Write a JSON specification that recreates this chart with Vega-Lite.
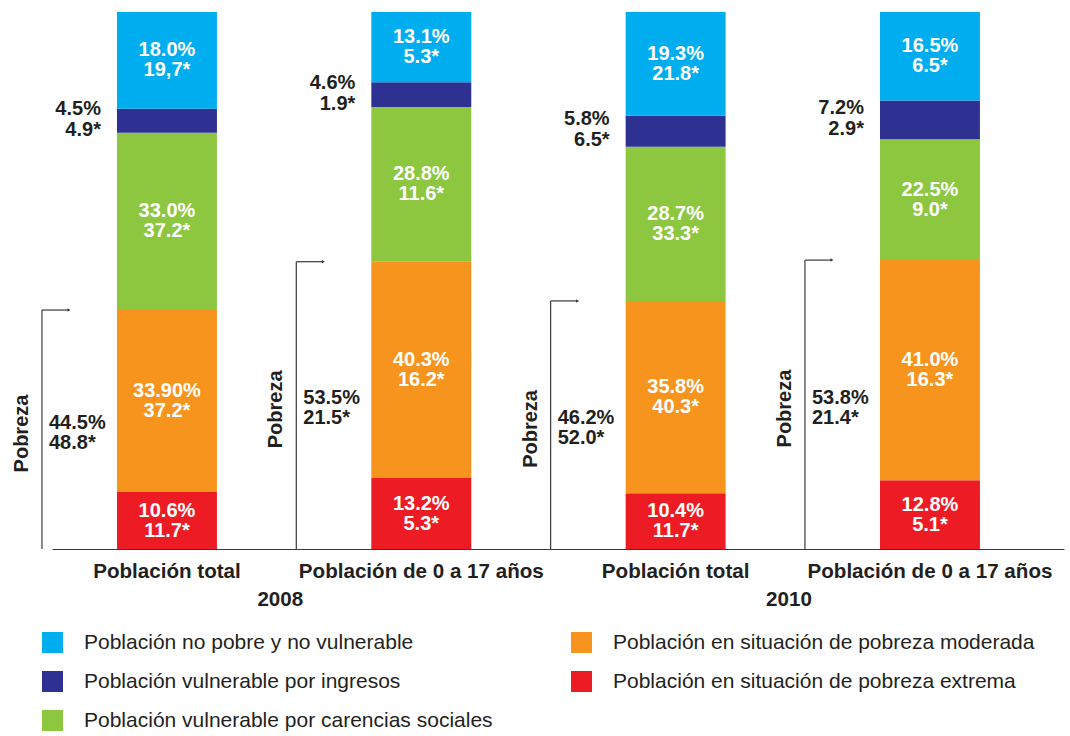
{
  "$schema": "https://vega.github.io/schema/vega-lite/v6.json",
  "autosize": {"type": "none"},
  "padding": {"left": 52, "top": 12, "right": 6, "bottom": 187},
  "width": 1012,
  "height": 537,
  "background": "white",
  "config": {
    "view": {"stroke": null},
    "font": "Liberation Sans",
    "text": {"font": "Liberation Sans"}
  },
  "datasets": {
    "segs": [
      {"bar": "2008|Población total", "cat": "Población en situación de pobreza extrema", "orden": 1, "value": 10.6, "label": "10.6%\n11.7*"},
      {"bar": "2008|Población total", "cat": "Población en situación de pobreza moderada", "orden": 2, "value": 33.9, "label": "33.90%\n37.2*"},
      {"bar": "2008|Población total", "cat": "Población vulnerable por carencias sociales", "orden": 3, "value": 33.0, "label": "33.0%\n37.2*"},
      {"bar": "2008|Población total", "cat": "Población vulnerable por ingresos", "orden": 4, "value": 4.5, "label": "4.5%\n4.9*"},
      {"bar": "2008|Población total", "cat": "Población no pobre y no vulnerable", "orden": 5, "value": 18.0, "label": "18.0%\n19,7*"},
      {"bar": "2008|Población de 0 a 17 años", "cat": "Población en situación de pobreza extrema", "orden": 1, "value": 13.2, "label": "13.2%\n5.3*"},
      {"bar": "2008|Población de 0 a 17 años", "cat": "Población en situación de pobreza moderada", "orden": 2, "value": 40.3, "label": "40.3%\n16.2*"},
      {"bar": "2008|Población de 0 a 17 años", "cat": "Población vulnerable por carencias sociales", "orden": 3, "value": 28.8, "label": "28.8%\n11.6*"},
      {"bar": "2008|Población de 0 a 17 años", "cat": "Población vulnerable por ingresos", "orden": 4, "value": 4.6, "label": "4.6%\n1.9*"},
      {"bar": "2008|Población de 0 a 17 años", "cat": "Población no pobre y no vulnerable", "orden": 5, "value": 13.1, "label": "13.1%\n5.3*"},
      {"bar": "2010|Población total", "cat": "Población en situación de pobreza extrema", "orden": 1, "value": 10.4, "label": "10.4%\n11.7*"},
      {"bar": "2010|Población total", "cat": "Población en situación de pobreza moderada", "orden": 2, "value": 35.8, "label": "35.8%\n40.3*"},
      {"bar": "2010|Población total", "cat": "Población vulnerable por carencias sociales", "orden": 3, "value": 28.7, "label": "28.7%\n33.3*"},
      {"bar": "2010|Población total", "cat": "Población vulnerable por ingresos", "orden": 4, "value": 5.8, "label": "5.8%\n6.5*"},
      {"bar": "2010|Población total", "cat": "Población no pobre y no vulnerable", "orden": 5, "value": 19.3, "label": "19.3%\n21.8*"},
      {"bar": "2010|Población de 0 a 17 años", "cat": "Población en situación de pobreza extrema", "orden": 1, "value": 12.8, "label": "12.8%\n5.1*"},
      {"bar": "2010|Población de 0 a 17 años", "cat": "Población en situación de pobreza moderada", "orden": 2, "value": 41.0, "label": "41.0%\n16.3*"},
      {"bar": "2010|Población de 0 a 17 años", "cat": "Población vulnerable por carencias sociales", "orden": 3, "value": 22.5, "label": "22.5%\n9.0*"},
      {"bar": "2010|Población de 0 a 17 años", "cat": "Población vulnerable por ingresos", "orden": 4, "value": 7.2, "label": "7.2%\n2.9*"},
      {"bar": "2010|Población de 0 a 17 años", "cat": "Población no pobre y no vulnerable", "orden": 5, "value": 16.5, "label": "16.5%\n6.5*"}
    ],
    "pobreza": [
      {"bar": "2008|Población total", "total": 44.5, "label": "44.5%\n48.8*", "word": "Pobreza"},
      {"bar": "2008|Población de 0 a 17 años", "total": 53.5, "label": "53.5%\n21.5*", "word": "Pobreza"},
      {"bar": "2010|Población total", "total": 46.2, "label": "46.2%\n52.0*", "word": "Pobreza"},
      {"bar": "2010|Población de 0 a 17 años", "total": 53.8, "label": "53.8%\n21.4*", "word": "Pobreza"}
    ],
    "years": [
      {"bar": "2008|Población de 0 a 17 años", "year": "2008"},
      {"bar": "2010|Población de 0 a 17 años", "year": "2010"}
    ]
  },
  "encoding": {
    "x": {
      "field": "bar",
      "type": "nominal",
      "sort": ["2008|Población total", "2008|Población de 0 a 17 años", "2010|Población total", "2010|Población de 0 a 17 años"],
      "scale": {"paddingInner": 0.607, "paddingOuter": 0.293, "align": 0.436},
      "axis": {
        "title": null,
        "labelExpr": "split(datum.label, '|')[1]",
        "labelAngle": 0,
        "labelFont": "Liberation Sans",
        "labelFontSize": 20.6,
        "labelFontWeight": "bold",
        "labelColor": "#231f20",
        "labelPadding": 12,
        "labelLimit": 0,
        "ticks": false,
        "domainColor": "#3a3a3a",
        "domainWidth": 1.2
      }
    }
  },
  "layer": [
    {
      "data": {"name": "segs"},
      "transform": [
        {"stack": "value", "groupby": ["bar"], "sort": [{"field": "orden", "order": "ascending"}], "as": ["v0", "v1"]},
        {"calculate": "(datum.v0 + datum.v1) / 2", "as": "mid"}
      ],
      "layer": [
        {
          "mark": {"type": "bar"},
          "encoding": {
            "y": {"field": "v1", "type": "quantitative", "scale": {"domain": [0, 100], "nice": false}, "axis": null},
            "y2": {"field": "v0"},
            "color": {
              "field": "cat",
              "type": "nominal",
              "scale": {
                "domain": ["Población no pobre y no vulnerable", "Población vulnerable por ingresos", "Población vulnerable por carencias sociales", "Población en situación de pobreza moderada", "Población en situación de pobreza extrema"],
                "range": ["#00aeef", "#2e3192", "#8dc63f", "#f7941d", "#ed1c24"]
              },
              "legend": {
                "orient": "none",
                "legendX": -10,
                "legendY": 620,
                "columns": 2,
                "title": null,
                "symbolType": "square",
                "symbolSize": 441,
                "symbolStrokeWidth": 0,
                "symbolOpacity": 1,
                "labelFont": "Liberation Sans",
                "labelFontSize": 21,
                "labelColor": "#231f20",
                "labelOffset": 21,
                "labelLimit": 0,
                "rowPadding": 17,
                "columnPadding": 78,
                "padding": 0
              }
            }
          }
        },
        {
          "transform": [{"filter": "datum.cat != 'Población vulnerable por ingresos'"}],
          "mark": {"type": "text", "color": "white", "fontSize": 20, "fontWeight": "bold", "lineBreak": "\n", "lineHeight": 20, "baseline": "middle", "align": "center", "dy": -10},
          "encoding": {
            "y": {"field": "mid", "type": "quantitative"},
            "text": {"field": "label"}
          }
        },
        {
          "transform": [{"filter": "datum.cat == 'Población vulnerable por ingresos'"}],
          "mark": {"type": "text", "color": "#231f20", "fontSize": 20, "fontWeight": "bold", "lineBreak": "\n", "lineHeight": 21, "baseline": "middle", "align": "right", "xOffset": -66, "dy": -12},
          "encoding": {
            "y": {"field": "mid", "type": "quantitative"},
            "text": {"field": "label"}
          }
        }
      ]
    },
    {
      "data": {"name": "pobreza"},
      "transform": [{"calculate": "datum.total / 2", "as": "half"}],
      "layer": [
        {
          "mark": {"type": "rule", "color": "#3a3a3a", "strokeWidth": 1.2, "xOffset": -125},
          "encoding": {
            "y": {"field": "total", "type": "quantitative"},
            "y2": {"datum": 0}
          }
        },
        {
          "mark": {"type": "rule", "color": "#3a3a3a", "strokeWidth": 1.2, "xOffset": -125, "x2Offset": -99},
          "encoding": {
            "x2": {"field": "bar"},
            "y": {"field": "total", "type": "quantitative"}
          }
        },
        {
          "mark": {"type": "point", "shape": "triangle-right", "filled": true, "size": 12, "color": "#3a3a3a", "opacity": 1, "xOffset": -98},
          "encoding": {
            "y": {"field": "total", "type": "quantitative"}
          }
        },
        {
          "mark": {"type": "text", "color": "#231f20", "fontSize": 20, "fontWeight": "bold", "angle": 270, "baseline": "middle", "align": "center", "xOffset": -145, "yOffset": 4},
          "encoding": {
            "y": {"field": "half", "type": "quantitative"},
            "text": {"field": "word"}
          }
        },
        {
          "mark": {"type": "text", "color": "#231f20", "fontSize": 20, "fontWeight": "bold", "lineBreak": "\n", "lineHeight": 20, "baseline": "middle", "align": "left", "xOffset": -118, "dy": -7},
          "encoding": {
            "y": {"field": "half", "type": "quantitative"},
            "text": {"field": "label"}
          }
        }
      ]
    },
    {
      "data": {"name": "years"},
      "mark": {"type": "text", "color": "#231f20", "fontSize": 20.6, "fontWeight": "bold", "baseline": "middle", "align": "center", "xOffset": -141, "dy": 51},
      "encoding": {
        "y": {"datum": 0, "type": "quantitative"},
        "text": {"field": "year"}
      }
    }
  ]
}
